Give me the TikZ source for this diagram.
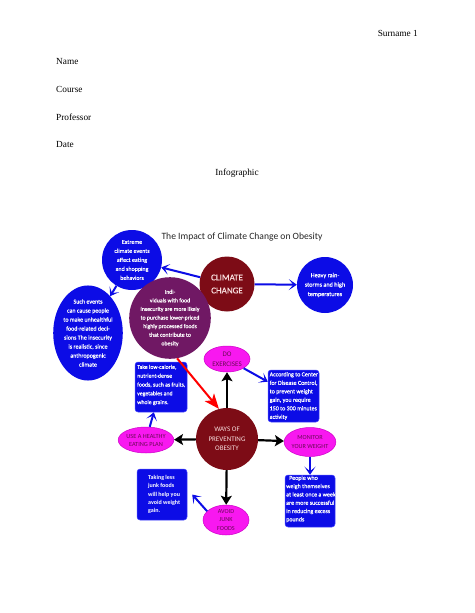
\documentclass[tikz,border=0pt]{standalone}
\usepackage{fontspec}
\setmainfont{Liberation Serif}
\newfontfamily\dfont{Carlito}
\newfontfamily\dfontm{Carlito}[FakeBold=0.5]
\usetikzlibrary{arrows.meta,shapes.geometric}
\definecolor{cblue}{RGB}{12,12,230}
\definecolor{cmaroon}{RGB}{125,12,22}
\definecolor{cpurple}{RGB}{112,24,100}
\definecolor{cmag}{RGB}{248,24,240}
\definecolor{cmagedge}{RGB}{205,0,200}
\definecolor{cmagtext}{RGB}{105,10,85}
\definecolor{cpink}{RGB}{248,222,222}
\begin{document}
\begin{tikzpicture}[x=1pt,y=-1pt,
  hdr/.style={font=\fontsize{9.3}{11}\selectfont, inner sep=0pt},
  bluecirc/.style={circle, fill=cblue, text=white, inner sep=0pt, align=center},
  redcirc/.style={circle, fill=cmaroon, text=cpink, inner sep=0pt, align=center},
  magell/.style={ellipse, fill=cmag, draw=cmagedge, line width=0.5pt, text=cmagtext, inner sep=0pt, align=center},
  bluebox/.style={rectangle, rounded corners=3pt, fill=cblue, draw=blue!70!white, line width=0.5pt, inner sep=0pt},
  boxtext/.style={anchor=west, text=white, inner sep=0pt, align=left},
  barrow/.style={draw=cblue, line width=2pt, -{Stealth[length=8pt,width=11pt,inset=4.5pt]}},
  karrow/.style={draw=black, line width=2.2pt, -{Stealth[length=9pt,width=11pt,inset=2pt]}},
  rarrow/.style={draw=red, line width=2pt, -{Stealth[length=15pt,width=12pt,inset=4pt]}}
]
\useasboundingbox (0,0) rectangle (474,613);
\fill[white] (0,0) rectangle (474,613);

% header
\node[hdr, anchor=base east] (sur) at (418,36) {Surname 1};
\node[hdr, anchor=base west] (nm) at (56,64) {Name};
\node[hdr, anchor=base west] (co) at (56,92) {Course};
\node[hdr, anchor=base west] (pr) at (56,120) {Professor};
\node[hdr, anchor=base west] (dt) at (56,147) {Date};
\node[hdr, anchor=base] (ig) at (237,175) {Infographic};

% title
\node[font=\dfont\fontsize{9.6}{12}\selectfont, text=black!85, inner sep=0pt] (title) at (242,237) {The Impact of Climate Change on Obesity};

% circles
\node[bluecirc, minimum size=60pt, font=\dfontm\fontsize{6}{9}\selectfont] (ext) at (132,260)
  {Extreme\\climate events\\affect eating\\and shopping\\behaviors};
\node[redcirc, minimum size=55pt, font=\dfontm\fontsize{9}{13}\selectfont] (cc) at (227,284)
  {CLIMATE\\CHANGE};
\node[bluecirc, minimum size=56pt, font=\dfontm\fontsize{6.2}{9.4}\selectfont] (heavy) at (325,285)
  {Heavy rain-\\storms and high\\temperatures};
\node[ellipse, fill=cblue, text=white, inner sep=0pt, align=center, minimum width=55pt, minimum height=79pt, font=\dfontm\fontsize{6}{9}\selectfont] (such) at (88,333)
  {Such events\\can cause people\\to make unhealthful\\food-related deci-\\sions The insecurity\\is realistic, since\\anthropogenic\\climate};
\node[circle, fill=cpurple, text=white, inner sep=0pt, align=center, minimum size=66pt, font=\dfontm\fontsize{5.8}{8.6}\selectfont] (purp) at (170,318)
  {Indi-\\viduals with food\\insecurity are more likely\\to purchase lower-priced\\highly processed foods\\that contribute to\\obesity};
\node[redcirc, minimum size=62pt, font=\dfont\fontsize{7}{9.5}\selectfont] (ways) at (227,439)
  {WAYS OF\\PREVENTING\\OBESITY};

% magenta ellipses
\node[magell, minimum width=46pt, minimum height=26pt, font=\dfont\fontsize{7}{10.5}\selectfont] (do) at (227,359)
  {DO\\EXERCISES};
\node[magell, minimum width=46pt, minimum height=29pt, font=\dfont\fontsize{6.2}{8.3}\selectfont] (mon) at (310,442)
  {MONITOR\\YOUR WEIGHT};
\node[magell, minimum width=53pt, minimum height=26pt, font=\dfont\fontsize{6.3}{8}\selectfont] (use) at (146,440)
  {USE A HEALTHY\\EATING PLAN};
\node[magell, minimum width=46pt, minimum height=30pt, font=\dfont\fontsize{6.2}{8.3}\selectfont] (avoid) at (226,520)
  {AVOID\\JUNK\\FOODS};

% blue boxes
\node[bluebox, minimum width=52pt, minimum height=50pt] (take) at (161,387) {};
\node[boxtext, font=\dfontm\fontsize{5.8}{8.8}\selectfont] (taketxt) at (137,385)
  {Take low-calorie,\\nutrient-dense\\foods, such as fruits,\\vegetables and\\whole grains.};
\node[bluebox, minimum width=51pt, minimum height=52pt] (acc) at (293.5,396) {};
\node[boxtext, font=\dfontm\fontsize{6}{8.5}\selectfont] (acctxt) at (269.5,396)
  {According to Center\\for Disease Control,\\to prevent weight\\gain, you require\\150 to 300 minutes\\activity};
\node[bluebox, minimum width=50pt, minimum height=52pt] (people) at (310,501) {};
\node[boxtext, font=\dfontm\fontsize{6}{8.3}\selectfont] (peopletxt) at (286,499)
  {\hspace*{3pt}People who\\weigh themselves\\at least once a week\\are more successful\\in reducing excess\\pounds};
\node[bluebox, minimum width=50pt, minimum height=51pt] (taking) at (162,494.5) {};
\node[boxtext, font=\dfont\bfseries\fontsize{6}{8.3}\selectfont] (takingtxt) at (148,494.5)
  {Taking less\\junk foods\\will help you\\avoid weight\\gain.};

% connectors
\draw[barrow] (cc) -- (ext);
\draw[barrow] (cc) -- (heavy);
\draw[barrow] (ext) -- (such);
\draw[rarrow] (purp.-80) -- (ways.105);
\draw[karrow] (ways) -- (do);
\draw[karrow] (ways) -- (mon);
\draw[karrow] (ways) -- (use);
\draw[karrow] (ways) -- (avoid);
\draw[barrow] (do) -- (acc);
\draw[barrow] (mon) -- (people);
\draw[barrow] (use) -- (take);
\draw[barrow] (avoid.155) -- ([xshift=5pt]taking.east);
\end{tikzpicture}
\end{document}
